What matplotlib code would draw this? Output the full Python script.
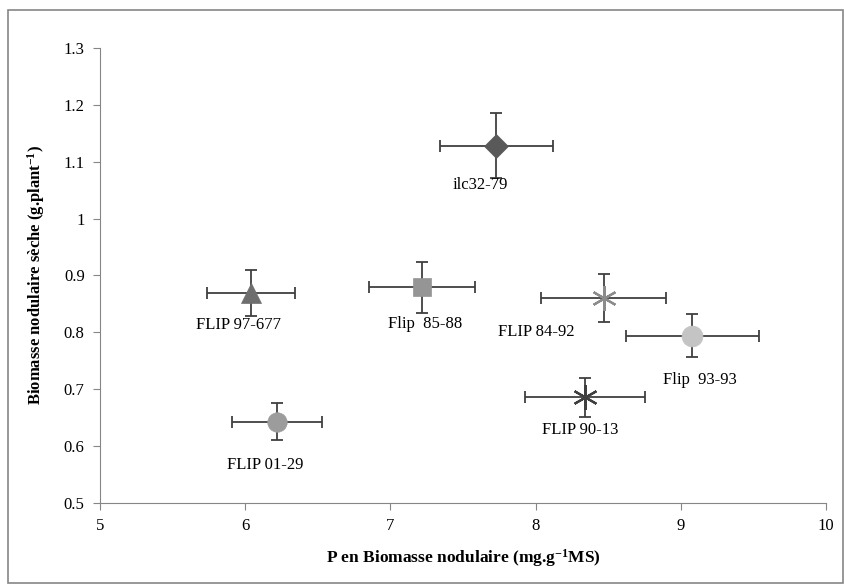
import matplotlib
matplotlib.use("Agg")
import matplotlib.pyplot as plt
from matplotlib.patches import Rectangle

# data
names = ["ilc32-79", "FLIP 97-677", "Flip  85-88", "FLIP 84-92", "Flip  93-93", "FLIP 90-13", "FLIP 01-29"]
p_nod = [7.73, 6.04, 7.22, 8.47, 9.08, 8.34, 6.22]
p_err = [0.39, 0.30, 0.365, 0.43, 0.455, 0.41, 0.31]
biomasse = [1.128, 0.869, 0.879, 0.860, 0.794, 0.686, 0.643]
biomasse_err = [0.057, 0.041, 0.045, 0.042, 0.038, 0.034, 0.032]

markers = ["D", "^", "s", (6, 2, 0), "o", (6, 2, 0), "o"]
colors = ["#595959", "#6e6e6e", "#959595", "#8c8c8c", "#c4c4c4", "#3f3f3f", "#9c9c9c"]
msizes = [12, 14, 13, 18, 15, 18, 14]
label_off = [(-16, -39), (-13, -32), (3, -37), (-68, -34), (7, -44), (-5, -33), (-12, -43)]

plt.rcParams['font.family'] = ['Liberation Serif', 'DejaVu Serif']
plt.rcParams['mathtext.fontset'] = 'custom'
plt.rcParams['mathtext.rm'] = 'Liberation Serif'
plt.rcParams['mathtext.bf'] = 'Liberation Serif:bold'

fig = plt.figure(figsize=(8.44, 5.85), dpi=100)
ax = fig.add_axes([0.1185, 0.1402, 0.8602, 0.7778])

for i in range(len(names)):
	ax.errorbar(p_nod[i], biomasse[i], xerr=p_err[i], yerr=biomasse_err[i],
		fmt="none", ecolor="#404040", elinewidth=1.3, capsize=4.5, capthick=1.3, zorder=2)
	ax.plot(p_nod[i], biomasse[i], marker=markers[i], color=colors[i], markersize=msizes[i],
		markeredgewidth=1.6 if isinstance(markers[i], tuple) else 0.5, linestyle="none", zorder=3)
	dx, dy = label_off[i]
	ax.annotate(names[i], (p_nod[i], biomasse[i]), xytext=(dx * 0.72, dy * 0.72),
		textcoords="offset points", ha="center", va="center", fontsize=12)

ax.set_xlim(5, 10)
ax.set_ylim(0.5, 1.3)
ax.set_xticks([5, 6, 7, 8, 9, 10])
ax.set_xticklabels(["5", "6", "7", "8", "9", "10"])
ax.set_yticks([0.5, 0.6, 0.7, 0.8, 0.9, 1.0, 1.1, 1.2, 1.3])
ax.set_yticklabels(["0.5", "0.6", "0.7", "0.8", "0.9", "1", "1.1", "1.2", "1.3"])
ax.tick_params(direction="out", length=5, color="#868686", labelsize=12, pad=6)
for s in ["top", "right"]:
	ax.spines[s].set_visible(False)
for s in ["left", "bottom"]:
	ax.spines[s].set_color("#868686")

ax.set_xlabel(r"P en Biomasse nodulaire (mg.g$\mathbf{^{-1}}$MS)", fontsize=12.5, fontweight="bold", labelpad=9)
ax.set_ylabel(r"Biomasse nodulaire sèche (g.plant$\mathbf{^{-1}}$)", fontsize=12, fontweight="bold", labelpad=12)

# outer frame
fig.patches.append(Rectangle((8 / 844, 2 / 585), 835 / 844, 573 / 585, transform=fig.transFigure,
	fill=False, edgecolor="#868686", linewidth=1.2))

fig.savefig("out.png", dpi=100)
